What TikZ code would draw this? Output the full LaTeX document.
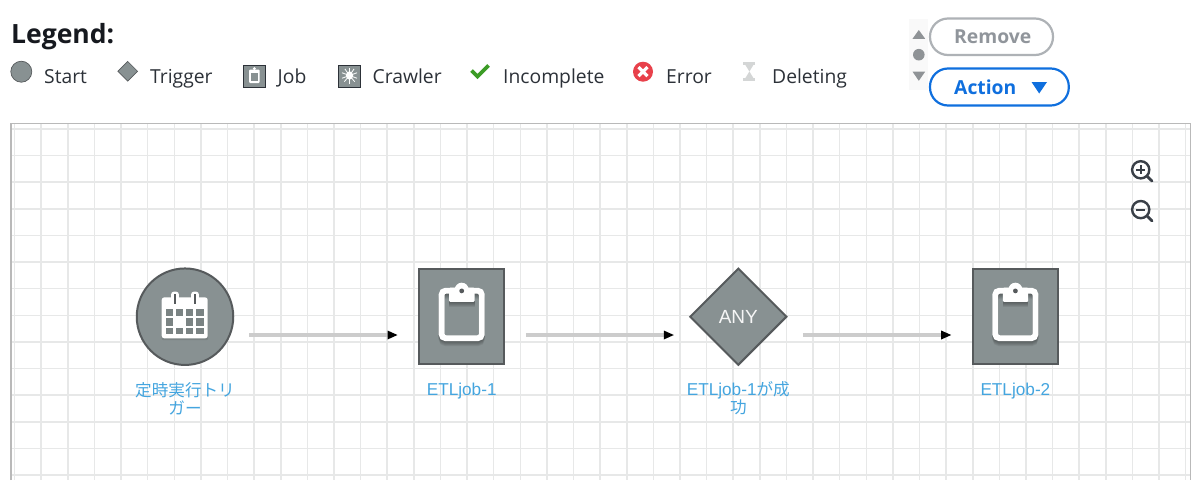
\documentclass[tikz,border=0pt]{standalone}
\usepackage{fontspec}
\setmainfont{Liberation Sans}
\newfontfamily\uifont{Open Sans}
\newfontfamily\cjk{Noto Sans CJK JP}
\usetikzlibrary{shapes.geometric,arrows.meta}
\definecolor{nodegray}{HTML}{889192}
\definecolor{nodeedge}{HTML}{565A5C}
\definecolor{labelblue}{HTML}{44A5DF}
\definecolor{gridc}{HTML}{E7E8E8}
\definecolor{framec}{HTML}{B9B9B9}
\definecolor{wirec}{HTML}{CCCCCC}
\definecolor{actionblue}{HTML}{0F6FDE}
\definecolor{removegray}{HTML}{AEB2B6}
\definecolor{removetext}{HTML}{90959B}
\definecolor{uitext}{HTML}{2C3138}
\definecolor{headc}{HTML}{16191F}
\definecolor{okgreen}{HTML}{3C9C26}
\definecolor{errred}{HTML}{E8414B}
\definecolor{stepbg}{HTML}{F9F9F9}
\definecolor{stepc}{HTML}{8F9396}
\definecolor{hourc}{HTML}{D4D6D6}
\definecolor{zoomc}{HTML}{3A4048}
\newcommand{\uisize}{\fontsize{19.3}{22}\selectfont}
\newcommand{\clipboardicon}{%
  \foreach \s in {1,2,3,4,5}{
    \draw[black,opacity=.07,line width=5.8pt,rounded corners=4pt] (-20.1,-26+\s) rectangle (20.1,21.5+\s);
    \fill[black,opacity=.07] (-12.5,-20+\s) rectangle (12.8,-14.8+\s);
  }
  \draw[white,line width=5.8pt,rounded corners=4pt] (-20.1,-26) rectangle (20.1,21.5);
  \fill[white,rounded corners=1pt] (-12.5,-29) rectangle (12.8,-14.8);
  \fill[white] (0,-27) circle (7);
  \fill[nodeedge] (0,-25.8) circle (2.4);
}
\tikzset{
  x=1pt,y=-1pt,
  gridline/.style={gridc,line width=1.5pt},
  wire/.style={wirec,line width=3.2pt},
  wiretip/.style={fill=black,draw=none},
  bignode/.style={draw=nodeedge,fill=nodegray,line width=2pt,inner sep=0pt},
  nodelabel/.style={text=labelblue,font=\fontsize{17.2}{18}\selectfont,align=center,anchor=north,inner sep=0pt},
  legendtext/.style={text=uitext,font=\uifont\uisize,anchor=base west,inner sep=0pt},
  smallnode/.style={draw=nodeedge,fill=nodegray,line width=.7pt,inner sep=0pt},
  pillbtn/.style={rounded corners=18pt,fill=white,line width=2.2pt},
  magn/.style={draw=zoomc,line width=2.4pt},
}
\begin{document}
\begin{tikzpicture}
\useasboundingbox (0,0) rectangle (1200,480);
\fill[white] (0,0) rectangle (1200,480);
% grid
\foreach \i in {0,...,44}{
  \pgfmathsetmacro{\gx}{14.6+26.615*\i}
  \draw[gridline] (\gx,124) -- (\gx,480);
}
\foreach \i in {0,...,13}{
  \pgfmathsetmacro{\gy}{129+26.62*\i}
  \draw[gridline] (11,\gy) -- (1190,\gy);
}
\draw[framec,line width=1.5pt] (11,480) -- (11,123.7) -- (1190.3,123.7) -- (1190.3,480);
% header
\node[text=headc,font=\uifont\bfseries\fontsize{26.5}{30}\selectfont,anchor=base west,inner sep=0pt] (legend) at (11,43) {Legend:};
\node[smallnode,circle,minimum size=21pt] (lstart) at (21.3,71.7) {};
\node[legendtext] (tstart) at (44,83) {Start};
\node[smallnode,diamond,aspect=1,minimum size=20pt] (ltrigger) at (127.7,71.3) {};
\node[legendtext] (ttrigger) at (150,83) {Trigger};
\node[smallnode,draw=uitext,line width=1pt,minimum size=22pt] (ljob) at (254.3,76) {};
\node[legendtext] (tjob) at (277.5,83) {Job};
\fill[white,rounded corners=1pt] (249.2,69.5) rectangle (259.6,83);
\fill[nodegray] (251,72.6) rectangle (257.8,81.4);
\fill[white] (254.4,68.6) circle (1.6);
\node[smallnode,draw=uitext,line width=1pt,minimum size=22pt] (lcrawler) at (349.5,76) {};
\node[legendtext] (tcrawler) at (372.5,83) {Crawler};
\fill[white] (349.5,75.5) ellipse (3.6 and 4.2);
\foreach \a in {20,50,90,130,160,200,235,270,305,340}{
  \draw[white,line width=.8pt] (349.5,75.5) -- ++(\a:8);
}
\draw[okgreen,line width=3.6pt] (471.5,70.5) -- (477.5,76.5) -- (488.5,65.5);
\node[legendtext] (tincomplete) at (503,83) {Incomplete};
\node[circle,fill=errred,inner sep=0pt,minimum size=20pt] (lerror) at (643,71.7) {};
\draw[white,line width=3.2pt] (638.5,67.2) -- (647.5,76.2) (647.5,67.2) -- (638.5,76.2);
\node[legendtext] (terror) at (666,83) {Error};
\fill[hourc] (743.4,62) rectangle (755.4,64.8);
\fill[hourc] (743.4,78.2) rectangle (755.4,81);
\fill[hourc] (745.3,64.8) -- (753.5,64.8) -- (749.4,71.5) -- (753.5,78.2) -- (745.3,78.2) -- (749.4,71.5) -- cycle;
\node[legendtext] (tdeleting) at (772,83) {Deleting};
% stepper
\fill[stepbg] (909,19) rectangle (928,90);
\fill[stepc] (912.5,38.8) -- (918.8,30) -- (925.2,38.8) -- cycle;
\fill[stepc] (918.8,54.7) circle (5.8);
\fill[stepc] (912.5,71.6) -- (925.2,71.6) -- (918.8,80.8) -- cycle;
% buttons
\draw[removegray,pillbtn] (930,18.5) rectangle (1053,55);
\node[text=removetext,font=\uifont\bfseries\fontsize{19.3}{22}\selectfont,anchor=base west,inner sep=0pt] (remove) at (954,43) {Remove};
\draw[actionblue,pillbtn] (930,68.5) rectangle (1068.8,105.5);
\node[text=actionblue,font=\uifont\bfseries\fontsize{19.3}{22}\selectfont,anchor=base west,inner sep=0pt] (action) at (954,94) {Action};
\fill[actionblue] (1031.5,82) -- (1047,82) -- (1039.2,93.5) -- cycle;
% zoom icons
\draw[magn] (1140.7,169.8) circle (8.6);
\draw[zoomc,line width=2.8pt,line cap=round] (1147,176.2) -- (1152,181);
\draw[zoomc,line width=2.2pt] (1136,169.8) -- (1145.4,169.8) (1140.7,165.2) -- (1140.7,174.4);
\draw[magn] (1140.7,209.6) circle (8.6);
\draw[zoomc,line width=2.8pt,line cap=round] (1147,216) -- (1152,220.8);
\draw[zoomc,line width=2.2pt] (1136,209.6) -- (1145.4,209.6);
% main nodes
\node[bignode,circle,minimum size=96.5pt] (start) at (185,316.7) {};
\node[bignode,minimum width=85pt,minimum height=95pt] (job1) at (461.7,316.7) {};
\node[bignode,diamond,aspect=1,minimum size=97pt,text=white!92!nodegray,font=\fontsize{19}{20}\selectfont] (trigger) at (738.3,316.7) {ANY};
\node[bignode,minimum width=85pt,minimum height=95pt] (job2) at (1015.4,316.7) {};
% calendar icon
\begin{scope}[shift={(start.center)}]
  \fill[black,opacity=.10,rounded corners=2pt] (-23.3,-18.5) rectangle (23.2,23.5);
  \fill[white,rounded corners=2.5pt] (-23.3,-19.3) rectangle (22.7,21.6);
  \foreach \rx in {-10,10}{
    \fill[white,rounded corners=2.5pt] (\rx-3.8,-25) rectangle (\rx+3.8,-11);
    \draw[nodeedge,line width=1.6pt] (\rx,-22.5) -- (\rx,-12.5);
  }
  \foreach \cy/\ch in {-8.2/7,1.6/7.4,10.9/6.6}{
    \foreach \cx/\cw in {-19.3/7.6,-9.3/7.6,1/7.3,11/8}{
      \fill[nodegray!90!black] (\cx,\cy) rectangle (\cx+\cw,\cy+\ch);
    }
  }
  \fill[white] (-9.3,1.6) rectangle (-1.7,9);
\end{scope}
\begin{scope}[shift={(job1.center)}]\clipboardicon\end{scope}
\begin{scope}[shift={(job2.center)}]\clipboardicon\end{scope}
% labels
\node[nodelabel] (lab1) at (185,382) {{\cjk\fontsize{16.6}{18}\selectfont 定時実行トリ}\\{\cjk\fontsize{16.6}{18}\selectfont ガー}};
\node[nodelabel] (lab2) at (461.7,383) {ETLjob-1};
\node[nodelabel] (lab3) at (738.3,381) {ETLjob-1{\cjk\fontsize{16.6}{18}\selectfont が成}\\{\cjk\fontsize{16.6}{18}\selectfont 功}};
\node[nodelabel] (lab4) at (1015.4,383) {ETLjob-2};
% connectors
\foreach \a/\b/\sa/\sb in {start/job1/15/-20.7,job1/trigger/20.7/-15,trigger/job2/15/-20.7}{
  \draw[wire] ([xshift=\sa pt,yshift=-18.3pt]\a.east) -- ([xshift=\sb pt-9pt,yshift=-18.3pt]\b.west);
  \fill[wiretip] ([xshift=\sb pt-10pt,yshift=-13.8pt]\b.west) -- ([xshift=\sb pt,yshift=-18.3pt]\b.west) -- ([xshift=\sb pt-10pt,yshift=-22.8pt]\b.west) -- cycle;
}
\end{tikzpicture}
\end{document}
